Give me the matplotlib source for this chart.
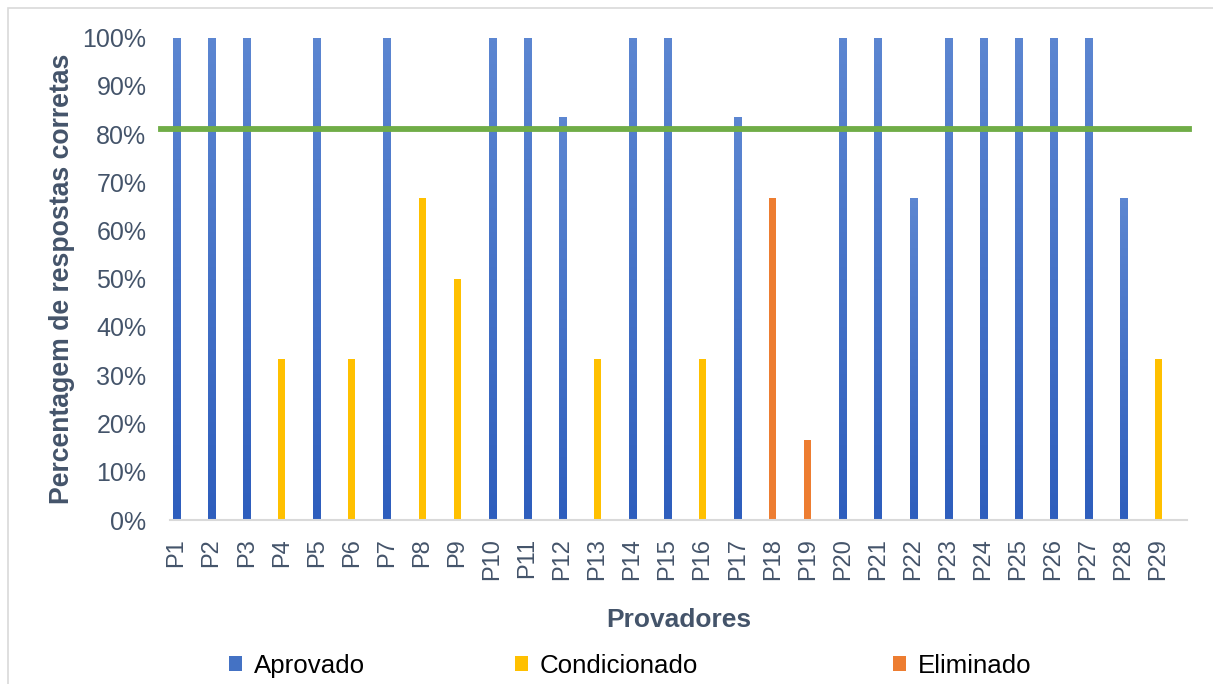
import matplotlib
matplotlib.use("Agg")
import matplotlib.pyplot as plt
import numpy as np
from matplotlib.patches import Patch, Rectangle
from matplotlib.colors import LinearSegmentedColormap
from matplotlib.ticker import PercentFormatter

# provadores and share of correct answers (fraction)
provadores = [f"P{i}" for i in range(1, 30)]
acertos = [1.0, 1.0, 1.0, 1/3, 1.0, 1/3, 1.0, 2/3, 0.5, 1.0,
           1.0, 5/6, 1/3, 1.0, 1.0, 1/3, 5/6, 2/3, 1/6, 1.0,
           1.0, 2/3, 1.0, 1.0, 1.0, 1.0, 1.0, 2/3, 1/3]
classe = ["A", "A", "A", "C", "A", "C", "A", "C", "C", "A",
          "A", "A", "C", "A", "A", "C", "A", "E", "E", "A",
          "A", "A", "A", "A", "A", "A", "A", "A", "C"]
nomes = {"A": "Aprovado", "C": "Condicionado", "E": "Eliminado"}
limite = 0.81

TEXT = "#44546A"
BLUE_TOP, BLUE_BOT = "#5C86D1", "#2E5EBD"
cores = {"A": "#4472C4", "C": "#FFC000", "E": "#ED7D31"}

plt.rcParams["font.family"] = ["Liberation Sans", "DejaVu Sans"]

fig = plt.figure(figsize=(12.13, 6.84), dpi=100)
# chart border
fig.patches.append(Rectangle((7.5 / 1213, -0.05), 1.1, 1 - 7.5 / 684 + 0.05,
                             transform=fig.transFigure, fill=False,
                             edgecolor="#D9D9D9", linewidth=1.2))

ax = fig.add_axes([170 / 1213, 1 - 520 / 684, 1017 / 1213, 482.5 / 684])
x = np.arange(len(provadores))
bw = 0.2
bars = ax.bar(x, acertos, width=bw, color=[cores[c] for c in classe], zorder=2)

# vertical gradient on the blue bars
grad_cmap = LinearSegmentedColormap.from_list("azul", [BLUE_BOT, BLUE_TOP])
grad = np.linspace(0, 1, 100).reshape(-1, 1)
for b, c in zip(bars, classe):
    if c != "A":
        continue
    x0, h = b.get_x(), b.get_height()
    ax.imshow(grad, extent=(x0, x0 + bw, 0, h), origin="lower", cmap=grad_cmap,
              aspect="auto", zorder=3, interpolation="bilinear")

ax.axhline(limite, xmin=-0.009, xmax=1.002, color="#70AD47", linewidth=4.2,
           zorder=4, clip_on=False)

ax.set_xlim(-0.185, len(provadores) - 0.19)
ax.set_ylim(0, 1)
ax.set_yticks(np.arange(0, 1.01, 0.1))
ax.yaxis.set_major_formatter(PercentFormatter(1.0, decimals=0))
ax.set_xticks(x)
ax.set_xticklabels(provadores, rotation=90)
ax.tick_params(axis="y", length=0, pad=17, labelsize=18, labelcolor=TEXT)
ax.tick_params(axis="x", length=0, pad=13, labelsize=17, labelcolor=TEXT)

for s in ["top", "right", "left"]:
    ax.spines[s].set_visible(False)
ax.spines["bottom"].set_color("#D9D9D9")
ax.spines["bottom"].set_linewidth(1.5)
ax.spines["bottom"].set_zorder(5)

ax.set_ylabel("Percentagem de respostas corretas", fontsize=19.2, fontweight="bold",
              color=TEXT, labelpad=5)
ax.set_xlabel("Provadores", fontsize=19, fontweight="bold", color=TEXT, labelpad=20)

# one legend box per entry, spread along the bottom
leg_x = {"A": 229, "C": 515, "E": 893}
for k in ["A", "C", "E"]:
    leg = fig.legend(handles=[Patch(facecolor=cores[k], label=nomes[k])],
                     loc="center left", bbox_to_anchor=(leg_x[k] / 1213, 1 - 666 / 684),
                     frameon=False, handlelength=0.5, handleheight=0.5,
                     handletextpad=0.45, borderpad=0, borderaxespad=0,
                     prop={"family": ["Liberation Sans"], "size": 18.6})
    leg.get_texts()[0].set_color("black")

fig.savefig("out.png", dpi=100)
